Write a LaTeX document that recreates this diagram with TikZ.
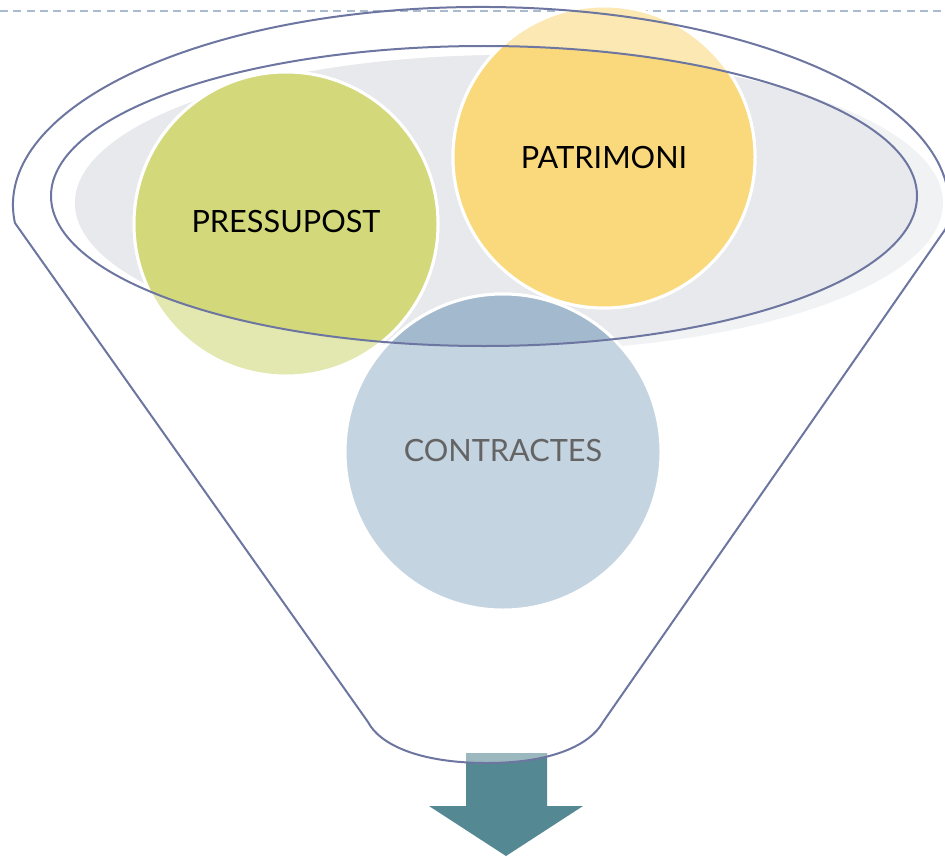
\documentclass[tikz,border=0pt]{standalone}
\usepackage{fontspec}
\setmainfont{Lato}
\definecolor{funnelline}{HTML}{6D76A0}
\definecolor{grayin}{HTML}{E8E9ED}
\definecolor{grayout}{HTML}{F1F2F4}
\definecolor{greenD}{HTML}{D3D97B}
\definecolor{greenL}{HTML}{E2E8B0}
\definecolor{yellowD}{HTML}{FAD97D}
\definecolor{yellowL}{HTML}{FCE8B2}
\definecolor{blueD}{HTML}{A3B9CD}
\definecolor{blueL}{HTML}{C4D4E1}
\definecolor{arrowD}{HTML}{548892}
\definecolor{arrowL}{HTML}{9AB8BE}
\definecolor{dashcol}{HTML}{A9BCCF}
\definecolor{textgray}{HTML}{646464}
\begin{document}
\begin{tikzpicture}[x=0.75pt,y=-0.75pt,
  bubble/.style={draw=white, line width=2.25pt},
  funnel/.style={draw=funnelline, line width=1.5pt},
  lbl/.style={font=\fontsize{23}{28}\selectfont, text=black, inner sep=0pt}]
\useasboundingbox (0,0) rectangle (945,856);
% header dashed line
\coordinate (dl) at (0,11);
\coordinate (dr) at (945,11);
\draw[dashcol, line width=1.5pt, dash pattern=on 6pt off 4pt] (dl) -- (dr);
% grey ellipse
\fill[grayout] (509,203) ellipse [x radius=434, y radius=148];
\begin{scope}
  \clip (484,196) ellipse [x radius=433, y radius=150];
  \fill[grayin] (509,203) ellipse [x radius=434, y radius=148];
\end{scope}
% circles (light outside the inner ring)
\path[bubble, fill=greenL] (286,224) circle[radius=152];
\path[bubble, fill=yellowL] (604,157) circle[radius=151];
\path[bubble, fill=blueL] (503,452) circle[radius=158];
\begin{scope}
  \clip (484,196) ellipse [x radius=433, y radius=150];
  \path[bubble, fill=greenD] (286,224) circle[radius=152];
  \path[bubble, fill=yellowD] (604,157) circle[radius=151];
  \path[bubble, fill=blueD] (503,452) circle[radius=158];
\end{scope}
% inner ring
\draw[funnel] (484,196) ellipse [x radius=433, y radius=150];
% funnel coordinates
\coordinate (kl) at (14.9,222.9);
\coordinate (bl) at (368,722);
\coordinate (bm) at (487,763);
\coordinate (br) at (603,722);
% arrow
\fill[arrowD] (466,753) -- (547,753) -- (547,806) -- (583,806) -- (506,856) -- (429,806) -- (466,806) -- cycle;
\begin{scope}
  \clip (kl) arc[start angle=174.8, end angle=367, x radius=468, y radius=198] -- (br)
     .. controls (590,745) and (552,763) .. (bm)
     .. controls (420,763) and (380,745) .. (bl) -- cycle;
  \fill[arrowL] (466,753) rectangle (547,790);
\end{scope}
% funnel outline
\draw[funnel, line join=round] (kl) arc[start angle=174.8, end angle=367, x radius=468, y radius=198] -- (br)
     .. controls (590,745) and (552,763) .. (bm)
     .. controls (420,763) and (380,745) .. (bl) -- cycle;
% labels
\node[lbl] (pressupost) at (286,222) {PRESSUPOST};
\node[lbl] (patrimoni) at (604,158) {PATRIMONI};
\node[lbl, text=textgray] (contractes) at (503,451) {CONTRACTES};
\end{tikzpicture}
\end{document}
